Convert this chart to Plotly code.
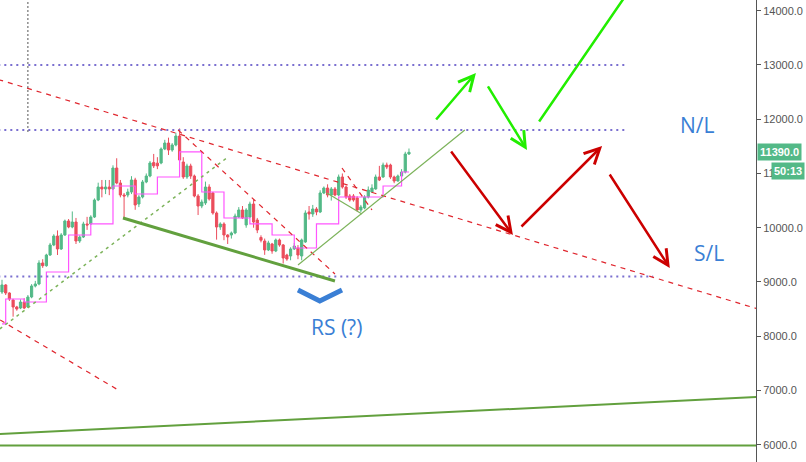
import plotly.graph_objects as go

# ---------------- data ----------------
opens = [8815,8945,8797,8668,8539,8520,8631,8539,8723,8926,
         8963,9350,9300,9497,9682,9847,9608,9866,10124,10013,
         10105,9755,9829,10069,10069,10197,10511,10750,10714,10750,
         10714,11100,10824,10603,10603,10658,10880,10437,10566,10843,
         10953,11200,11190,11193,11451,11561,11432,11525,11690,11211,
         10935,11138,10953,10585,10400,10456,10750,10640,10271,10013,
         10069,9866,9866,9903,10197,10327,10050,10197,10437,10142,
         9820,9755,9590,9700,9571,9774,9682,9497,9479,9608,
         9626,9479,9737,10290,10253,10345,10290,10640,10732,10603,
         10714,10603,10935,10750,10585,10585,10548,10327,10363,10566,
         10658,10714,10935,10935,11156,11156,10935,10861,10953,11027,
         11359]
closes = [8945,8797,8686,8539,8502,8631,8520,8723,8926,8963,
          9350,9300,9497,9682,9847,9608,9866,10124,10013,10105,
          9755,9829,10069,10050,10197,10511,10750,10714,10750,10714,
          11100,10824,10603,10585,10658,10880,10419,10566,10843,10953,
          11193,11140,11140,11451,11561,11432,11525,11690,11248,10935,
          11138,10953,10585,10400,10474,10750,10530,10271,10013,10069,
          9866,9829,9903,10216,10327,10179,10327,10437,10105,9958,
          9770,9590,9719,9571,9774,9682,9442,9423,9608,9663,
          9497,9774,10271,10253,10345,10290,10640,10732,10603,10714,
          10603,10935,10750,10566,10511,10511,10327,10382,10566,10695,
          10732,10935,10880,11156,11119,10935,10861,10953,11027,11359,
          11390]
highs = [9040,8960,8810,8690,8560,8680,8700,8760,8960,9020,
         9400,9420,9520,9720,9880,9950,9900,10150,10160,10300,
         10180,9860,10110,10200,10230,10540,10830,10880,10880,10880,
         11150,11280,10880,10640,10720,10950,10920,10600,10880,11000,
         11230,11360,11300,11480,11620,11660,11560,11750,11830,11300,
         11180,11180,10980,10620,10520,10850,10800,10660,10300,10100,
         10100,9880,9930,10260,10380,10400,10360,10480,10520,10180,
         9860,9800,9760,9720,9800,9800,9700,9520,9640,9720,
         9680,9800,10320,10400,10420,10380,10690,10760,10800,10750,
         10750,10980,11000,10780,10620,10620,10580,10420,10600,10760,
         10800,10980,11140,11200,11200,11180,10960,10980,11080,11400,
         11460]
lows = [8780,8760,8650,8360,8470,8500,8500,8520,8700,8900,
        8940,9260,9280,9480,9660,9497,9590,9850,9990,9990,
        9700,9720,9810,9960,10050,10180,10490,10560,10620,10600,
        10700,10800,10560,10180,10560,10620,10330,10380,10540,10820,
        10930,11100,11080,11170,11430,11340,11400,11500,11200,10900,
        10900,10900,10560,10234,10360,10420,10500,10240,9780,9960,
        9770,9700,9800,9880,10180,10160,10000,10180,10000,9900,
        9730,9500,9570,9520,9550,9650,9340,9390,9400,9590,
        9420,9400,9720,10150,10200,10230,10270,10620,10560,10500,
        10580,10580,10720,10530,10480,10480,10300,10290,10340,10540,
        10640,10700,10860,10920,11080,10900,10820,10850,10930,11000,
        11340]
bar_index = list(range(len(opens)))

# magenta step indicator (change points)
mag_index = [0, 1, 6, 12, 18, 24, 30, 36, 42, 48, 54, 60, 67, 73, 79, 85, 91, 103, 108, 110]
mag_value = [8226, 8686, 8631, 9184, 9866, 10069, 10769, 10621, 10935, 11396,
             10658, 10179, 10069, 9866, 9626, 10069, 10566, 10769, 11027, 11027]

# horizontal dotted levels
level_price = [13000, 11800, 9100]
level_end = [168.4, 168.4, 176.0]

# drawn trend lines: (x0, y0, x1, y1) in bar index / price
red_dashed = [(-1, 12732, 204, 8509),
              (47.6, 11801, 90, 9147),
              (-0.5, 8299, 31.4, 7009),
              (91.9, 11101, 100, 10327)]
green_dashed = [(-0.6, 8134, 61.1, 11303)]
green_thick = [(32.7, 10179, 90, 9018)]
green_thin = [(80, 9313, 125.1, 11801),
              (87.8, 10640, 97.3, 10253)]
green_bottom = [(-1, 6198, 204, 6880),
                (-1, 5987, 204, 5987)]
vline_index = 7.0
vline_from = 11764

# arrows: (tail_x, tail_y, head_x, head_y)
green_arrows = [(117, 11967, 128.1, 12852),
                (131.1, 12631, 141.9, 11432),
                (144.9, 11930, 172.4, 14658)]
red_arrows = [(121.1, 11432, 138.1, 9866),
              (140.0, 9995, 162.2, 11506),
              (164.0, 11008, 180.5, 9258)]

chevron_x = [80, 85.9, 91.9]
chevron_y = [8852, 8650, 8852]

labels = [("N/L", 188, 11893), ("S/L", 191, 9534), ("RS (?)", 90.5, 8170)]

last_price = 11390
countdown = "50:13"
y_ticks = [6000, 7000, 8000, 9000, 10000, 11000, 12000, 13000, 14000]

# ---------------- figure ----------------
GREEN = "#53b987"
RED = "#eb4d5c"

fig = go.Figure()

fig.add_trace(go.Scatter(x=mag_index, y=mag_value, mode="lines",
                         line=dict(color="#ff55ff", width=1.2, shape="hv"),
                         hoverinfo="skip", showlegend=False))

fig.add_trace(go.Candlestick(
    x=bar_index, open=opens, high=highs, low=lows, close=closes,
    increasing=dict(line=dict(color=GREEN, width=1), fillcolor=GREEN),
    decreasing=dict(line=dict(color=RED, width=1), fillcolor=RED),
    whiskerwidth=0, showlegend=False))

fig.add_trace(go.Scatter(x=chevron_x, y=chevron_y, mode="lines",
                         line=dict(color="#3a7fd5", width=5),
                         hoverinfo="skip", showlegend=False))

shapes = []
for p, e in zip(level_price, level_end):
    shapes.append(dict(type="line", xref="x", yref="y", x0=-1, x1=e, y0=p, y1=p,
                       line=dict(color="#7a6fd0", width=2, dash="2px,4px")))
for x0, y0, x1, y1 in red_dashed:
    shapes.append(dict(type="line", xref="x", yref="y", x0=x0, y0=y0, x1=x1, y1=y1,
                       line=dict(color="#e0262e", width=1.2, dash="5px,5px")))
for x0, y0, x1, y1 in green_dashed:
    shapes.append(dict(type="line", xref="x", yref="y", x0=x0, y0=y0, x1=x1, y1=y1,
                       line=dict(color="#7cb35a", width=1.5, dash="3px,4px")))
for x0, y0, x1, y1 in green_thick:
    shapes.append(dict(type="line", xref="x", yref="y", x0=x0, y0=y0, x1=x1, y1=y1,
                       line=dict(color="#62a03e", width=3)))
for x0, y0, x1, y1 in green_thin:
    shapes.append(dict(type="line", xref="x", yref="y", x0=x0, y0=y0, x1=x1, y1=y1,
                       line=dict(color="#7cb35a", width=1.2)))
for x0, y0, x1, y1 in green_bottom:
    shapes.append(dict(type="line", xref="x", yref="y", x0=x0, y0=y0, x1=x1, y1=y1,
                       line=dict(color="#62a03e", width=2)))
shapes.append(dict(type="line", xref="x", yref="y", x0=vline_index, x1=vline_index,
                   y0=vline_from, y1=15000,
                   line=dict(color="#555555", width=1, dash="2px,2px")))

annotations = []
for color, arrows in (("#22ee00", green_arrows), ("#cc0000", red_arrows)):
    for tx, ty, hx, hy in arrows:
        annotations.append(dict(x=hx, y=hy, ax=tx, ay=ty, xref="x", yref="y",
                                axref="x", ayref="y", text="", showarrow=True,
                                arrowhead=5, arrowsize=1.2, arrowwidth=2.5,
                                arrowcolor=color, standoff=0))
for txt, lx, ly in labels:
    annotations.append(dict(x=lx, y=ly, xref="x", yref="y", text=txt, showarrow=False,
                            font=dict(family="Open Sans, DejaVu Sans", size=21, color="#3a7fd5")))

annotations.append(dict(x=1, y=last_price, xref="paper", yref="y", xanchor="left",
                        yanchor="middle", text="<b>%.1f</b>" % last_price, showarrow=False,
                        bgcolor=GREEN, borderpad=2, xshift=1,
                        font=dict(family="Liberation Sans, Arial", size=11, color="white")))
annotations.append(dict(x=1, y=last_price, xref="paper", yref="y", xanchor="left",
                        yanchor="middle", text="<b>%s</b>" % countdown, showarrow=False,
                        bgcolor=GREEN, borderpad=2, xshift=15, yshift=-19,
                        font=dict(family="Liberation Sans, Arial", size=11, color="white")))

fig.update_layout(
    width=806, height=462,
    margin=dict(l=0, r=50, t=0, b=0, autoexpand=False),
    paper_bgcolor="white", plot_bgcolor="white",
    shapes=shapes, annotations=annotations,
    showlegend=False, boxgap=0.15,
    xaxis=dict(range=[-0.54, 203.8], visible=False, rangeslider=dict(visible=False),
               showgrid=False, zeroline=False),
    yaxis=dict(range=[5682, 14197], side="right", showgrid=False, zeroline=False,
               tickvals=y_ticks, ticktext=["%.1f" % v for v in y_ticks],
               ticks="outside", ticklen=4, tickcolor="#555555",
               showline=True, linecolor="#555555", linewidth=1,
               tickfont=dict(family="Liberation Sans, Arial", size=11, color="#555555")),
)

fig.write_html("out.html", config={"displayModeBar": False},
               post_script="document.body.style.margin='0';")
